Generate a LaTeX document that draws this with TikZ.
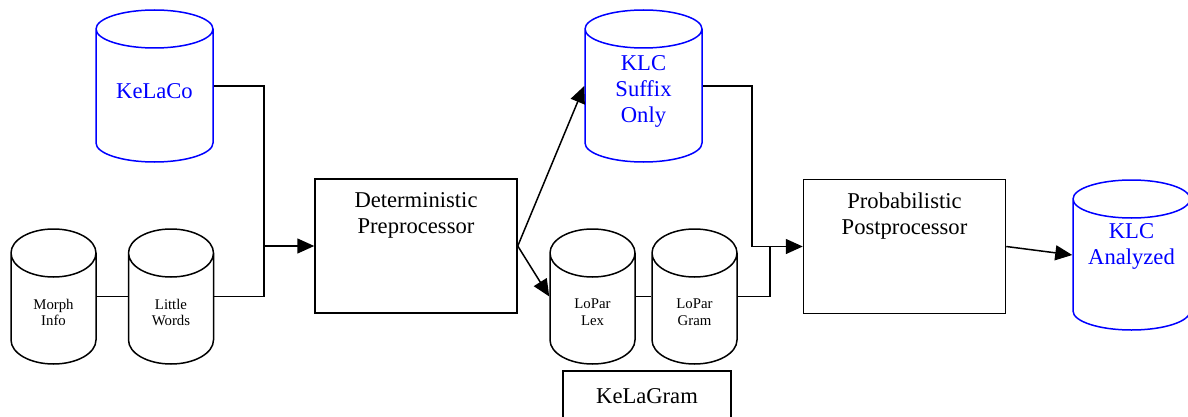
\documentclass[tikz,border=0pt]{standalone}
\usepackage{fontspec}
\setmainfont{Liberation Serif}
\usetikzlibrary{shapes.geometric,arrows.meta}

\begin{document}
\begin{tikzpicture}[x=0.5pt, y=-0.5pt, line width=0.75pt,
  bigtext/.style={font=\fontsize{11.3}{13}\selectfont, align=center, inner sep=0pt},
  smalltext/.style={font=\fontsize{7.4}{8.4}\selectfont, align=center, inner sep=0pt},
  db/.style={cylinder, shape border rotate=90, draw, inner sep=10pt, anchor=shape center},
  bigdb/.style={db, blue, aspect=0.95, minimum width=58.5pt, minimum height=76pt},
  smalldb/.style={db, aspect=1.2, minimum width=42.5pt, minimum height=67.5pt},
  proc/.style={draw, minimum width=101pt, minimum height=67pt},
  flow/.style={-{Triangle[length=8.5pt,width=7.5pt]}}]
% canvas in pixel units
\useasboundingbox (0,0) rectangle (1188,417);
\clip (0,0) rectangle (1188,417);

% corpora and lexica
\node[bigdb] (kelaco) at (154.5,86) {};
\node[smalldb] (morph) at (53.5,296.5) {};
\node[smalldb] (little) at (171,296.5) {};
\node[bigdb] (suffix) at (643.5,86) {};
\node[smalldb] (lex) at (592.5,296.5) {};
\node[smalldb] (gram) at (694.5,296.5) {};
\node[bigdb, minimum height=75pt] (analyzed) at (1131.5,255) {};

% their names
\node[bigtext, text=blue, yshift=-2.75pt] (kelaco-t) at (kelaco.shape center) {KeLaCo};
\node[smalltext, yshift=-8pt] (morph-t) at (morph.shape center) {Morph\\Info};
\node[smalltext, yshift=-8pt] (little-t) at (little.shape center) {Little\\Words};
\node[bigtext, text=blue, yshift=-2.75pt] (suffix-t) at (suffix.shape center) {KLC\\Suffix\\Only};
\node[smalltext, yshift=-8pt] (lex-t) at (lex.shape center) {LoPar\\Lex};
\node[smalltext, yshift=-8pt] (gram-t) at (gram.shape center) {LoPar\\Gram};
\node[bigtext, text=blue, yshift=4.5pt] (analyzed-t) at (analyzed.shape center) {KLC\\Analyzed};

% processing stages
\node[proc] (det) at (416,246) {};
\node[bigtext, anchor=north, yshift=-6.8pt] (det-t) at (det.north) {Deterministic\\Preprocessor};
\node[proc] (prob) at (904.5,246.5) {};
\node[bigtext, anchor=north, yshift=-6.8pt] (prob-t) at (prob.north) {Probabilistic\\Postprocessor};
\node[draw, bigtext, minimum width=84pt, minimum height=25pt] (kelagram) at (647,396) {KeLaGram};

% junctions
\coordinate (jin) at (264,246);
\coordinate (jout) at (752,246.5);
\coordinate (jgram) at (770,246.5);

% connectors
\draw (morph.shape center -| morph.east) -- (little.shape center -| little.west);
\draw (kelaco.shape center -| kelaco.east) -| (jin);
\draw (little.shape center -| little.east) -| (jin);
\draw[flow] (jin) -- (det.west);
\draw[flow] (det.east) -- (suffix.shape center -| suffix.west);
\draw[flow] (det.east) -- (lex.shape center -| lex.west);
\draw (lex.shape center -| lex.east) -- (gram.shape center -| gram.west);
\draw[flow] (suffix.shape center -| suffix.east) -| (jout) -- (prob.west);
\draw (gram.shape center -| gram.east) -| (jgram);
\draw[flow] (prob.east) -- (analyzed.shape center -| analyzed.west);
\end{tikzpicture}
\end{document}
